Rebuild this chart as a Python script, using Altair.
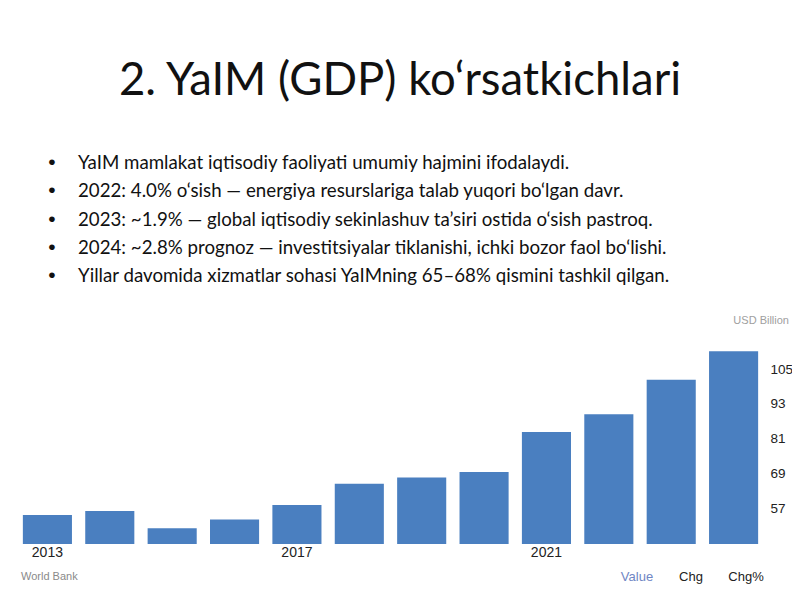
import altair as alt
import pandas as pd

# ---- data ----
years = [str(y) for y in range(2013, 2025)]
gdp_values = [54.6, 56.0, 50.0, 53.1, 58.1, 65.4, 67.6, 69.5, 83.3, 89.4, 101.3, 111.2]
y_tick_values = [57, 69, 81, 93, 105]
x_tick_labels = ["2013", "2017", "2021"]
axis_floor = 44.6
axis_ceiling = 118.5

title_text = "2. YaIM (GDP) ko‘rsatkichlari"
bullet_lines = [
    "YaIM mamlakat iqtisodiy faoliyati umumiy hajmini ifodalaydi.",
    "2022: 4.0% o‘sish — energiya resurslariga talab yuqori bo‘lgan davr.",
    "2023: ~1.9% — global iqtisodiy sekinlashuv ta’siri ostida o‘sish pastroq.",
    "2024: ~2.8% prognoz — investitsiyalar tiklanishi, ichki bozor faol bo‘lishi.",
    "Yillar davomida xizmatlar sohasi YaIMning 65–68% qismini tashkil qilgan.",
]
unit_label = "USD Billion"
source_label = "World Bank"
tab_labels = ["Value", "Chg", "Chg%"]

df = pd.DataFrame({"year": years, "gdp": gdp_values})

W, H = 749, 214

bars = alt.Chart(df).mark_bar(color="#4a7fc0").encode(
    x=alt.X(
        "year:O",
        sort=years,
        scale=alt.Scale(paddingInner=0.213, paddingOuter=0.11),
        axis=alt.Axis(
            values=x_tick_labels, title=None, labelAngle=0, domain=False, ticks=False,
            labelFont="Liberation Sans", labelFontSize=14, labelColor="#222222",
            labelPadding=1,
        ),
    ),
    y=alt.Y(
        "gdp:Q",
        scale=alt.Scale(domain=[axis_floor, axis_ceiling], nice=False, zero=False),
        axis=alt.Axis(
            orient="right", values=y_tick_values, grid=False, domain=False, ticks=False,
            title=None, labelFont="Liberation Sans", labelFontSize=13.5,
            labelColor="#222222", labelPadding=5,
        ),
    ),
    y2=alt.datum(axis_floor),
)

def text_layer(text, x, y, **kw):
    return alt.Chart(pd.DataFrame({"t": [text]})).mark_text(**kw).encode(
        text="t:N", x=alt.value(x), y=alt.value(y)
    )

title = text_layer(title_text, 384, -235, font="Lato", fontSize=45.5, color="#111111",
                   align="center", baseline="alphabetic")
bullet_text = text_layer("\n".join(bullet_lines), 62, -161, font="Lato", fontSize=18.7,
                         color="#111111", align="left", baseline="alphabetic",
                         lineBreak="\n", lineHeight=28.35)
bullet_dots = text_layer("\n".join(["•"] * len(bullet_lines)), 36, -161,
                         font="Liberation Sans", fontSize=21, color="#111111",
                         align="center", baseline="alphabetic",
                         lineBreak="\n", lineHeight=28.35)
unit = text_layer(unit_label, 773, -9, font="Liberation Sans", fontSize=11,
                  color="#a0a0a0", align="right", baseline="middle")
source = text_layer(source_label, 5, 247, font="Liberation Sans", fontSize=11,
                    color="#8a8a8a", align="left", baseline="middle")
tab_value = text_layer(tab_labels[0], 621, 247, font="Liberation Sans", fontSize=13,
                       color="#6f86c4", align="center", baseline="middle")
tab_chg = text_layer(tab_labels[1], 675, 247, font="Liberation Sans", fontSize=13,
                     color="#222222", align="center", baseline="middle")
tab_chgp = text_layer(tab_labels[2], 730, 247, font="Liberation Sans", fontSize=13,
                      color="#222222", align="center", baseline="middle")

chart = alt.layer(
    bars, title, bullet_text, bullet_dots, unit, source, tab_value, tab_chg, tab_chgp
).properties(
    width=W, height=H,
    autosize=alt.AutoSizeParams(type="none"),
    padding={"left": 8, "top": 322, "right": 27, "bottom": 48},
    background="white",
).configure_view(stroke=None)

chart.save("out.html", embed_options={"renderer": "svg", "actions": False})
